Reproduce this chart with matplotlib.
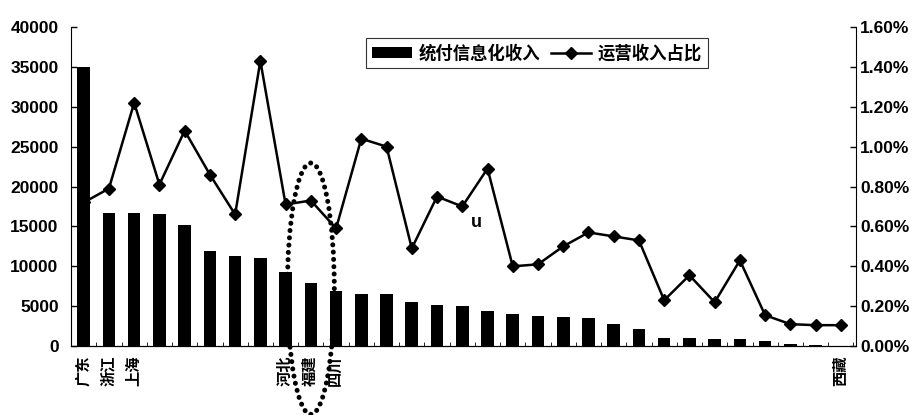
import numpy as np
import matplotlib
matplotlib.use('Agg')
import matplotlib.pyplot as plt
from matplotlib.patches import Ellipse, Patch
from matplotlib.lines import Line2D
from matplotlib.ticker import FuncFormatter, MultipleLocator

plt.rcParams['font.family'] = ['Liberation Sans', 'Noto Sans CJK SC', 'DejaVu Sans']
plt.rcParams['font.weight'] = 'bold'

# only some provinces are labelled in the original chart
provinces = ['广东', '浙江', '上海', '', '', '', '', '', '河北', '福建', '四川',
             '', '', '', '', '', '', '', '', '', '', '', '', '', '', '', '', '', '', '', '西藏']
# 统付信息化收入
income = [35000, 16700, 16700, 16600, 15200, 11900, 11300, 11100, 9300, 7900, 6900,
          6500, 6500, 5500, 5200, 5000, 4400, 4000, 3800, 3700, 3500, 2800, 2100,
          1000, 1000, 900, 900, 700, 300, 100, 50]
# 运营收入占比 (%)
ratio = [0.72, 0.79, 1.22, 0.81, 1.08, 0.86, 0.66, 1.43, 0.71, 0.73, 0.59,
         1.04, 1.00, 0.49, 0.75, 0.70, 0.89, 0.40, 0.41, 0.50, 0.57, 0.55,
         0.53, 0.23, 0.355, 0.22, 0.43, 0.155, 0.11, 0.105, 0.105]

x = np.arange(len(income))

fig = plt.figure(figsize=(9.23, 4.15), dpi=100)
ax = fig.add_axes([0.077, 0.166, 0.8504, 0.769])

ax.bar(x, income, width=0.5, color='black', zorder=2)
ax.set_xlim(-0.45, 30.6)
ax.set_ylim(0, 40000)
ax.set_yticks(range(0, 40001, 5000))
ax.tick_params(axis='y', direction='in', length=4, width=1, pad=9, labelsize=12.5)
ax.set_xticks(x)
ax.set_xticklabels(provinces, rotation=90, fontsize=11)
ax.tick_params(axis='x', which='major', length=0, pad=7)
ax.set_xticks(np.arange(-0.5, len(x), 1), minor=True)
ax.tick_params(axis='x', which='minor', direction='in', length=3)
ax.spines['top'].set_visible(False)
ax.spines['right'].set_visible(False)

ax2 = ax.twinx()
ax2.plot(x, ratio, color='black', lw=1.8, marker='D', ms=6.5)
ax2.set_ylim(0, 1.6)
ax2.yaxis.set_major_locator(MultipleLocator(0.2))
ax2.yaxis.set_major_formatter(FuncFormatter(lambda v, p: '%.2f%%' % v))
ax2.tick_params(axis='y', direction='in', length=4, width=1, pad=3, labelsize=12.5)
ax2.spines['top'].set_visible(False)
ax2.spines['left'].set_visible(False)

# dotted ring around 福建
ring = Ellipse((9, 0.288), width=1.86, height=1.26, fill=False, edgecolor='black',
               ls=(0, (0.01, 1.45)), lw=3.6, capstyle='round', clip_on=False, zorder=5)
ax2.add_patch(ring)
ax2.text(15.55, 0.62, 'u', fontsize=13, ha='center', va='center')

handles = [Patch(facecolor='black'),
           Line2D([], [], color='black', marker='D', lw=1.8, ms=6.5)]
leg = fig.legend(handles, ['统付信息化收入', '运营收入占比'], loc='center',
                 bbox_to_anchor=(0.582, 0.872), ncol=2, frameon=True, fancybox=False,
                 edgecolor='black', fontsize=12.5, handlelength=2.3, handleheight=0.6,
                 columnspacing=0.6, handletextpad=0.4, borderpad=0.35)
leg.get_frame().set_linewidth(0.8)

fig.savefig('out.png', dpi=100)
